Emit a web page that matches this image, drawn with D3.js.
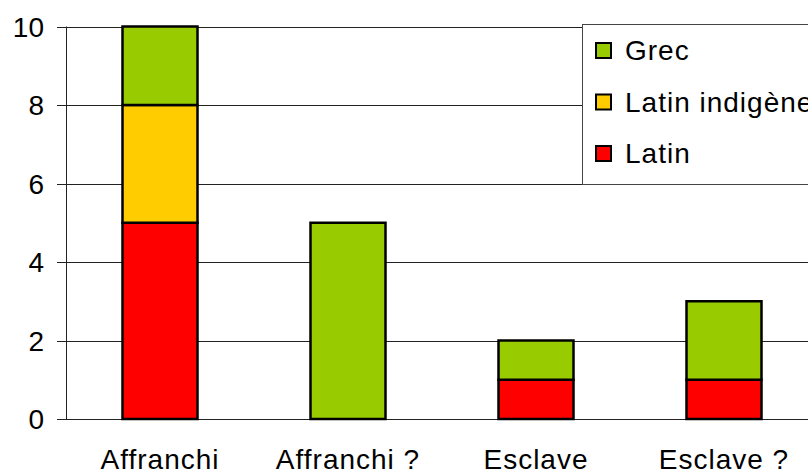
<!DOCTYPE html>
<html><head><meta charset="utf-8">
<script src="https://cdn.jsdelivr.net/npm/d3@7"></script>
<style>body{margin:0;background:#fff}svg{display:block}text{font-family:"Liberation Sans",Arial,sans-serif}</style>
</head><body><svg id="c" width="808" height="472"></svg>
<script>
const categories = ["Affranchi", "Affranchi ?", "Esclave", "Esclave ?"];
const seriesNames = ["Latin", "Latin indigène", "Grec"];
const latin = [5, 0, 1, 1];
const latinIndigene = [3, 0, 0, 0];
const grec = [2, 5, 1, 2];
const yTicks = [0, 2, 4, 6, 8, 10];
const colors = ["#ff0000", "#ffcc00", "#99cc00"];

const svg = d3.select("#c");
const x0 = 66, yTop = 26.5, yBot = 419;
const x = d3.scaleBand().domain(categories).range([x0, x0 + 4 * 188]).paddingInner(0.6).paddingOuter(0.3);
const y = d3.scaleLinear().domain([0, 10]).range([yBot, yTop]);

// gridlines
svg.append("g").selectAll("line").data(yTicks).join("line")
  .attr("x1", 57).attr("x2", 808).attr("y1", d => Math.round(y(d)) + 0.5).attr("y2", d => Math.round(y(d)) + 0.5)
  .attr("stroke", "#222").attr("stroke-width", 1);
// y axis line
svg.append("line").attr("x1", x0 + 0.5).attr("x2", x0 + 0.5).attr("y1", yTop).attr("y2", yBot + 0.5)
  .attr("stroke", "#222");
// tick labels
svg.append("g").selectAll("text").data(yTicks).join("text")
  .attr("x", 44).attr("y", d => y(d)).attr("dy", "0.36em").attr("text-anchor", "end")
  .attr("font-size", 28).attr("fill", "#000").text(d => d);

const rows = categories.map((c, i) => ({cat: c, Latin: latin[i], "Latin indigène": latinIndigene[i], Grec: grec[i]}));
const stacked = d3.stack().keys(seriesNames)(rows);
const bw = 75;
svg.append("g").selectAll("g").data(stacked).join("g")
  .attr("fill", (d, i) => colors[i])
  .selectAll("rect").data(d => d.filter(s => s[1] > s[0])).join("rect")
  .attr("x", d => x(d.data.cat) + x.bandwidth() / 2 - bw / 2)
  .attr("width", bw)
  .attr("y", d => y(d[1]))
  .attr("height", d => y(d[0]) - y(d[1]))
  .attr("stroke", "#000").attr("stroke-width", 2.5);

// x labels
svg.append("g").selectAll("text").data(categories).join("text")
  .attr("x", d => x(d) + x.bandwidth() / 2).attr("y", 469).attr("text-anchor", "middle")
  .attr("font-size", 28).attr("letter-spacing", "1px").attr("fill", "#000").text(d => d);

// legend
const lg = svg.append("g");
lg.append("rect").attr("x", 582.5).attr("y", 24.5).attr("width", 240).attr("height", 160)
  .attr("fill", "#fff").attr("stroke", "#444").attr("stroke-width", 1);
const legendItems = ["Grec", "Latin indigène", "Latin"];
const legendColors = ["#99cc00", "#ffcc00", "#ff0000"];
legendItems.forEach((name, i) => {
  const cy = 50 + i * 51.5;
  lg.append("rect").attr("x", 596).attr("y", cy - 7).attr("width", 15).attr("height", 15)
    .attr("fill", legendColors[i]).attr("stroke", "#000").attr("stroke-width", 2);
  lg.append("text").attr("x", 625).attr("y", cy).attr("dy", "0.36em").attr("font-size", 28)
    .attr("letter-spacing", "1px").attr("fill", "#000").text(name);
});
</script></body></html>
